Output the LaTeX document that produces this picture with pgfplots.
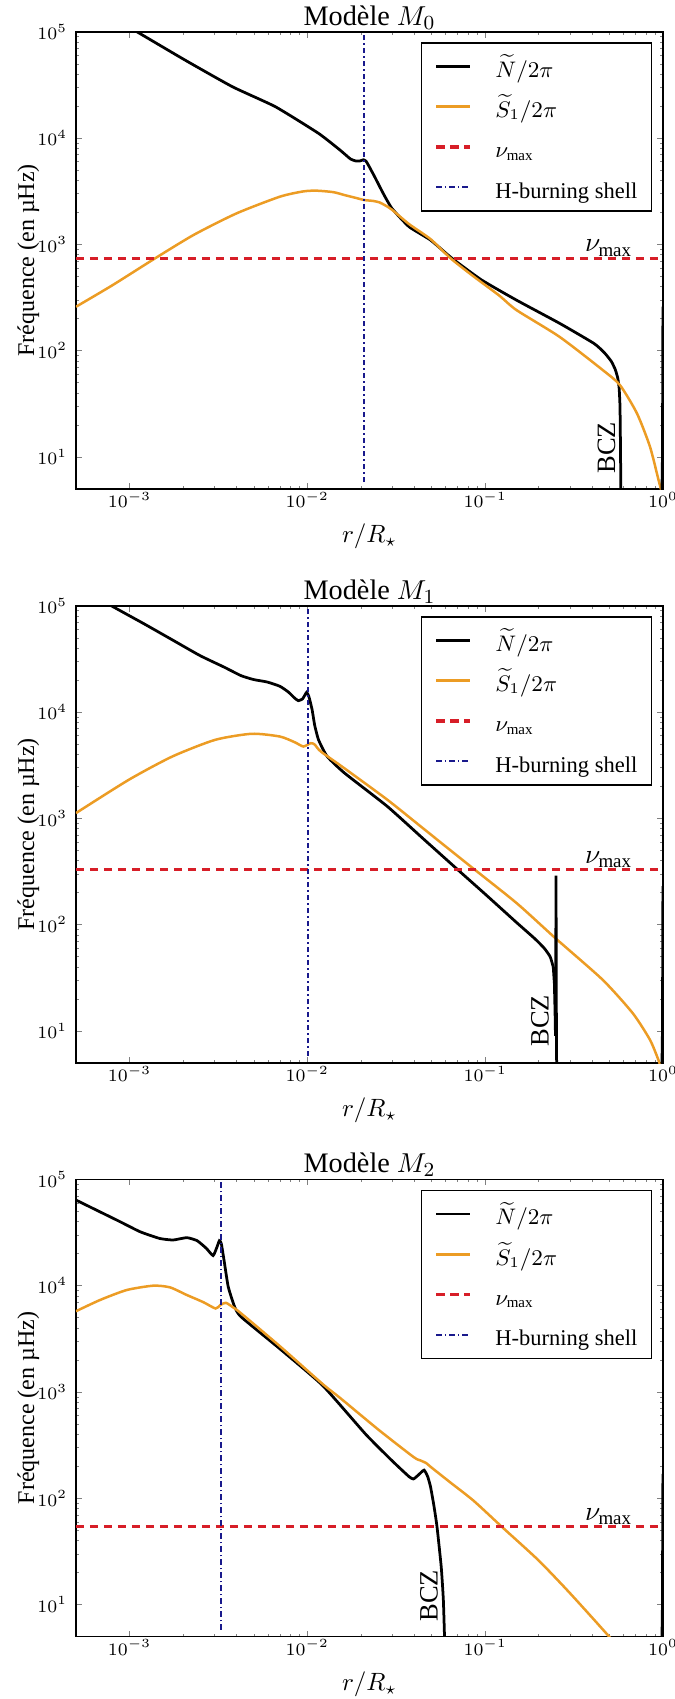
\documentclass[border=0pt]{standalone}
\usepackage{fontspec}
\setmainfont{Liberation Serif}
\usepackage{pgfplots}
\pgfplotsset{compat=1.18}

\definecolor{cS}{RGB}{236,156,36}
\definecolor{cR}{RGB}{215,30,40}
\definecolor{cB}{RGB}{25,25,140}

\newcommand{\lstrut}{\rule[-4.6pt]{0pt}{14.7pt}}

\tikzset{
  numaxlab/.style={anchor=base west, inner sep=0pt, yshift=2.6pt, font=\fontsize{10.8}{13}\selectfont},
  bczlab/.style={rotate=90, anchor=center, inner sep=0pt, font=\fontsize{10.6}{12.5}\selectfont},
  Nst/.style={black, line width=1.1pt},
  Sst/.style={cS, line width=1.0pt},
  Rst/.style={cR, line width=1.3pt, dash pattern=on 3.4pt off 2.2pt},
  Bst/.style={cB, line width=0.8pt, dash pattern=on 2.2pt off 1.2pt on 0.6pt off 1.2pt},
}

\pgfplotsset{
  every axis/.append style={
    scale only axis, width=234.8pt, height=182.9pt,
    tick align=inside,
    major tick length=2.4pt, minor tick length=1.2pt,
    tick label style={font=\fontsize{7.2}{8.6}\selectfont},
    xticklabel style={inner sep=1pt},
    axis line style={line width=0.6pt},
    xlabel style={at={(axis description cs:0.5,-0.1044)}, anchor=center, font=\fontsize{10}{12}\selectfont},
    ylabel style={at={(axis description cs:-0.081,0.5)}, anchor=center, font=\fontsize{9.6}{11.5}\selectfont},
    every axis title shift=0pt,
    title style={at={(axis description cs:0.5,1)}, anchor=base, yshift=2.7pt, font=\fontsize{11.3}{13.5}\selectfont},
    legend style={
      at={(axis description cs:0.9813,0.9775)}, anchor=north east,
      draw=black, line width=0.6pt, fill=white,
      font=\fontsize{9.0}{11}\selectfont,
      inner xsep=3.6pt, inner ysep=1.6pt, row sep=0.55pt,
    },
    legend cell align=left,
  },
  legend image code/.code={\draw[#1] (0pt,0pt) -- (13.6pt,0pt); \path (-1.6pt,0pt) (21pt,0pt);},
}

\begin{document}
\begin{tikzpicture}
% ---------------- Panel M0 ----------------
\begin{axis}[xmode=log, ymode=log, xmin=5e-4, xmax=1, ymin=5, ymax=1e5,
  xtick={1e-3,1e-2,1e-1,1}, ytick={1e1,1e2,1e3,1e4,1e5},
  at={(30.4pt,-195.6pt)}, anchor=south west,
  xlabel={$r/R_\star$}, ylabel={Fréquence (en µHz)}, title={Modèle $M_0$}]
\addplot[Nst, smooth, tension=0.3] coordinates {(5e-4,216000) (0.0011,100000) (0.00205,54200) (0.00379,30400) (0.00662,19700) (0.01156,11070) (0.01527,7710) (0.0175,6350) (0.0188,6080) (0.0198,6100) (0.0207,6250) (0.0214,6050) (0.0222,5450) (0.0239,4330) (0.0267,3020) (0.0299,2180) (0.0373,1466) (0.0493,1097) (0.0652,738) (0.095,465) (0.150,299) (0.262,181) (0.409,117) (0.47,95) (0.513,79) (0.54,66) (0.557,55) (0.567,44) (0.573,30) (0.576,15) (0.578,8) (0.580,4)};
\addlegendentry{\lstrut$\widetilde{N}/2\pi$}
\addplot[Sst, smooth, tension=0.4] coordinates {(5e-4,259) (8e-4,412) (1.39e-3,738) (2.3e-3,1230) (4.0e-3,1958) (7.0e-3,2808) (0.0095,3150) (0.0113,3200) (0.014,3100) (0.0162,2909) (0.019,2720) (0.0209,2613) (0.0235,2560) (0.0255,2480) (0.0275,2320) (0.0299,2120) (0.0373,1553) (0.0493,1120) (0.064,738) (0.086,500) (0.12,330) (0.15,241) (0.262,135) (0.458,65.8) (0.573,47.4) (0.714,25.7) (0.845,12.5) (0.944,6.07) (0.99,4.5)};
\addlegendentry{\lstrut$\widetilde{S}_1/2\pi$}
\addplot[Rst] coordinates {(5e-4,738) (1,738)};
\addlegendentry{\lstrut$\nu_{\rm max}$}
\addplot[Bst] coordinates {(0.0207,5.8) (0.0207,1e5)};
\addlegendentry{\lstrut H-burning shell}
\addplot[Nst, forget plot] coordinates {(0.985,4) (0.993,10) (0.996,50) (0.998,150) (0.9995,250) (1,260)};
\node[numaxlab] at (axis cs:0.362,738) {$\nu_{\rm max}$};
\node[bczlab] at (axis cs:0.481,12.2) {BCZ};
\end{axis}
% ---------------- Panel M1 ----------------
\begin{axis}[xmode=log, ymode=log, xmin=5e-4, xmax=1, ymin=5, ymax=1e5,
  xtick={1e-3,1e-2,1e-1,1}, ytick={1e1,1e2,1e3,1e4,1e5},
  at={(30.4pt,-425.2pt)}, anchor=south west,
  xlabel={$r/R_\star$}, ylabel={Fréquence (en µHz)}, title={Modèle $M_1$}]
\addplot[Nst, smooth, tension=0.3] coordinates {(5e-4,155000) (7.9e-4,100000) (1.2e-3,68000) (1.74e-3,47800) (2.49e-3,34000) (3.4e-3,26500) (4.24e-3,22000) (5.0e-3,20200) (5.93e-3,19200) (7.0e-3,17500) (7.8e-3,15500) (8.5e-3,13500) (8.9e-3,12800) (9.4e-3,13300) (9.9e-3,15300) (0.0102,14000) (0.01064,10500) (0.0110,7500) (0.01156,5480) (0.01293,3820) (0.0162,2666) (0.0282,1294) (0.045,640) (0.070,330) (0.10,194) (0.15,105) (0.19,74) (0.215,60) (0.232,50) (0.2415,40)};
\addlegendentry{\lstrut$\widetilde{N}/2\pi$}
\addplot[Sst, smooth, tension=0.4] coordinates {(5e-4,1122) (9.9e-4,2306) (1.74e-3,3820) (3.03e-3,5480) (4.87e-3,6250) (7.0e-3,5890) (8.5e-3,5200) (9.5e-3,4745) (0.01045,5100) (0.0110,4950) (0.0119,4260) (0.0162,2950) (0.0282,1496) (0.045,800) (0.08,370) (0.15,160) (0.248,74.8) (0.458,30.3) (0.676,14.7) (0.845,8.26) (0.944,5.3) (0.97,4.5)};
\addlegendentry{\lstrut$\widetilde{S}_1/2\pi$}
\addplot[Rst] coordinates {(5e-4,330) (1,330)};
\addlegendentry{\lstrut$\nu_{\rm max}$}
\addplot[Bst] coordinates {(0.0101,5.8) (0.0101,1e5)};
\addlegendentry{\lstrut H-burning shell}
\addplot[Nst, forget plot] coordinates {(0.2415,40) (0.245,28) (0.2472,15) (0.2485,9) (0.2495,40) (0.2502,290) (0.2509,60) (0.2515,12) (0.2525,4)};
\addplot[Nst, forget plot] coordinates {(0.985,4) (0.993,10) (0.996,50) (0.998,150) (0.9995,220) (1,230)};
\node[numaxlab] at (axis cs:0.362,330) {$\nu_{\rm max}$};
\node[bczlab] at (axis cs:0.203,12.5) {BCZ};
\end{axis}
% ---------------- Panel M2 ----------------
\begin{axis}[xmode=log, ymode=log, xmin=5e-4, xmax=1, ymin=5, ymax=1e5,
  xtick={1e-3,1e-2,1e-1,1}, ytick={1e1,1e2,1e3,1e4,1e5},
  at={(30.4pt,-654.64pt)}, anchor=south west,
  xlabel={$r/R_\star$}, ylabel={Fréquence (en µHz)}, title={Modèle $M_2$}]
\addplot[Nst, smooth, tension=0.3] coordinates {(5e-4,63900) (6.82e-4,49500) (8.84e-4,40000) (1.15e-3,32100) (1.48e-3,27800) (1.76e-3,26900) (2.1e-3,28300) (2.4e-3,26500) (2.7e-3,22500) (2.95e-3,19200) (3.1e-3,23000) (3.2e-3,26500) (3.28e-3,25000) (3.40e-3,17400) (3.59e-3,9770) (3.90e-3,6330) (4.24e-3,5090) (7e-3,2550) (0.0122,1150) (0.0213,400) (0.030,225) (0.0373,160) (0.0395,152) (0.042,165) (0.0453,184) (0.0475,160) (0.0493,128) (0.0515,85) (0.0536,54) (0.0566,22.7) (0.0582,11) (0.0593,4)};
\addlegendentry{\lstrut$\widetilde{N}/2\pi$}
\addplot[Sst, smooth, tension=0.4] coordinates {(5e-4,5750) (6.82e-4,7330) (9.64e-4,9100) (1.36e-3,10000) (1.69e-3,9640) (2.10e-3,8170) (2.6e-3,7000) (3.05e-3,6100) (3.25e-3,6600) (3.48e-3,6900) (3.8e-3,6300) (4.24e-3,5490) (7e-3,2700) (0.01225,1180) (0.01527,880) (0.0252,440) (0.0395,245) (0.043,228) (0.0465,215) (0.0493,198) (0.063,143) (0.086,95) (0.124,54) (0.199,26.2) (0.3,12.8) (0.498,5) (0.55,4)};
\addlegendentry{\lstrut$\widetilde{S}_1/2\pi$}
\addplot[Rst] coordinates {(5e-4,54) (1,54)};
\addlegendentry{\lstrut$\nu_{\rm max}$}
\addplot[Bst] coordinates {(0.00328,5.8) (0.00328,1e5)};
\addlegendentry{\lstrut H-burning shell}
\addplot[Nst, forget plot] coordinates {(0.985,4) (0.993,10) (0.996,50) (0.998,130) (0.9995,165) (1,170)};
\node[numaxlab] at (axis cs:0.362,54) {$\nu_{\rm max}$};
\node[bczlab] at (axis cs:0.0483,12.1) {BCZ};
\end{axis}
\pgfresetboundingbox
\path[use as bounding box] (0pt,0pt) rectangle (270pt,-679.6pt);
\end{tikzpicture}
\end{document}
